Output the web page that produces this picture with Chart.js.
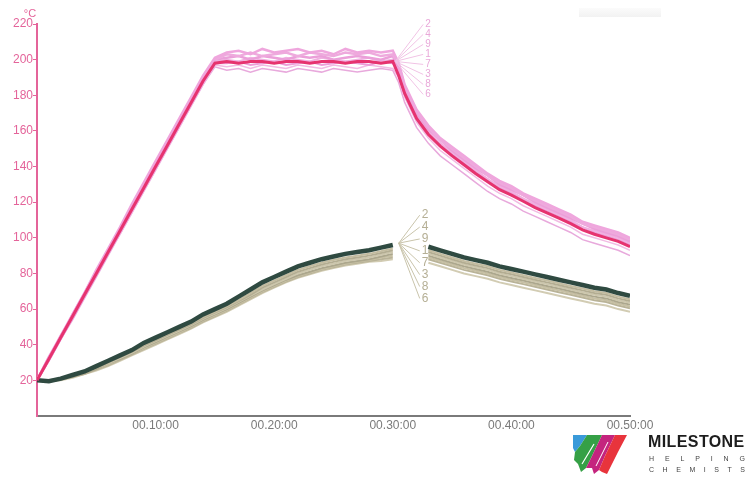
<!DOCTYPE html>
<html>
<head>
<meta charset="utf-8">
<script src="https://cdn.jsdelivr.net/npm/chart.js@4.4.1/dist/chart.umd.min.js"></script>
<style>
    body { margin: 0; background: #ffffff; }
    #wrap { position: relative; width: 752px; height: 478px; overflow: hidden; }
    #chart { position: absolute; left: 0; top: 0; }
    #bar { position: absolute; left: 579px; top: 8px; width: 82px; height: 9px; background: linear-gradient(#fbfbfb, #f2f2f2); }
    #logo-mark { position: absolute; left: 572px; top: 434px; }
    .brand { position: absolute; left: 648px; top: 433px; font: bold 16px "Liberation Sans", Arial, sans-serif; color: #1d1d1d; letter-spacing: 0.4px; }
    .tag { position: absolute; left: 649px; width: 96px; display: flex; justify-content: space-between; font: 7px "Liberation Sans", Arial, sans-serif; color: #444; }
</style>
</head>
<body>
<div id="wrap">
    <canvas id="chart" width="752" height="478"></canvas>
    <div id="bar"></div>
    <svg id="logo-mark" width="58" height="44" viewBox="0 0 58 44">
        <polygon points="1,1 15,1 8,12 3,18 1,14" fill="#3a9ad9"/>
        <polygon points="15,1 30,1 20,22 14,34 9,38 6,30 2,26 3,18 8,12" fill="#35a046"/>
        <polygon points="30,1 43,1 33,22 27,36 22,40 20,34 14,34 20,22" fill="#c4247e"/>
        <polygon points="43,1 55,1 46,18 40,30 35,40 30,38 27,36 33,22" fill="#e8343c"/>
        <polyline points="10,30 16,20 22,10" stroke="#ffffff" stroke-width="1.2" fill="none"/>
        <polyline points="24,32 30,20 36,8" stroke="#ffffff" stroke-width="1" fill="none"/>
    </svg>
    <div class="brand">MILESTONE</div>
    <div class="tag" style="top:455px"><span>H</span><span>E</span><span>L</span><span>P</span><span>I</span><span>N</span><span>G</span></div>
    <div class="tag" style="top:466px"><span>C</span><span>H</span><span>E</span><span>M</span><span>I</span><span>S</span><span>T</span><span>S</span></div>
</div>
<script>
// time axis in minutes
const minutes = [0, 1, 2, 3, 4, 5, 6, 7, 8, 9, 10, 11, 12, 13, 14, 15, 16, 17, 18, 19, 20,
    21, 22, 23, 24, 25, 26, 27, 28, 29, 30, 30.5, 31, 32, 33, 34, 35, 36, 37, 38, 39, 40,
    41, 42, 43, 44, 45, 46, 47, 48, 49, 50];

const vesselNames = ['2', '4', '9', '1', '7', '3', '8', '6'];

// set temperature / internal probe (pink)
const pink1 = [20, 32, 44, 56, 68, 80, 92, 104, 116, 128, 140, 152, 164, 176, 188, 198,
    199, 198, 199, 199, 198, 199, 199, 198, 199, 199, 198, 199, 199, 198, 199,
    191, 181, 167, 158, 151.5, 146, 141, 136, 131.5, 127, 124, 120.5, 117, 114, 111, 108, 104.5, 102, 100, 98, 95];
const pink2 = [20, 33, 45, 57, 69, 82, 94, 106, 119, 131, 143, 155, 167, 179, 191, 201,
    204, 205, 203, 206, 204, 205, 206, 204, 205, 203, 206, 204, 205, 204, 205,
    198, 186, 172, 163, 156, 151, 146, 141, 136, 132, 129, 125, 122, 119, 116, 113, 109, 107, 105, 103, 100];
const pink4 = [20, 33, 44, 57, 69, 81, 93, 105, 118, 130, 142, 154, 166, 178, 190, 200,
    203, 202, 204, 202, 203, 204, 202, 204, 203, 202, 204, 203, 204, 202, 203,
    197, 185, 171, 162, 155, 150, 145, 140, 135, 131, 128, 124, 121, 118, 115, 112, 108, 106, 104, 102, 99];
const pink9 = [20, 32, 45, 56, 68, 81, 93, 104, 117, 129, 141, 153, 165, 177, 189, 200,
    201, 202, 200, 202, 201, 200, 202, 201, 202, 200, 201, 202, 201, 200, 202,
    196, 184, 170, 161, 155, 149, 144, 139, 135, 130, 127, 124, 120, 117, 114, 111, 108, 105, 103, 101, 98];
const pink7 = [20, 32, 44, 56, 68, 80, 92, 104, 116, 128, 140, 152, 164, 176, 188, 199,
    200, 199, 201, 200, 199, 201, 200, 199, 201, 200, 199, 200, 201, 199, 200,
    195, 183, 169, 160, 153, 148, 143, 138, 133, 129, 126, 122, 119, 116, 113, 110, 106, 104, 102, 100, 97];
const pink3 = [20, 31, 43, 55, 67, 79, 91, 103, 115, 127, 139, 151, 163, 175, 187, 198,
    198, 199, 197, 198, 199, 197, 198, 199, 197, 198, 199, 198, 197, 199, 198,
    194, 182, 168, 159, 153, 147, 142, 137, 133, 128, 125, 122, 118, 115, 112, 109, 106, 103, 101, 99, 96];
const pink8 = [20, 31, 43, 55, 67, 79, 91, 102, 114, 126, 138, 150, 162, 174, 186, 197,
    196, 197, 195, 197, 196, 195, 197, 196, 195, 197, 196, 195, 197, 196, 195,
    190, 179, 165, 156, 149, 144, 139, 134, 129, 125, 122, 118, 115, 112, 109, 106, 102, 100, 98, 96, 93];
const pink6 = [20, 31, 43, 54, 66, 78, 90, 102, 114, 126, 138, 150, 162, 174, 186, 196,
    194, 195, 193, 195, 194, 193, 195, 194, 193, 195, 194, 193, 194, 195, 194,
    187, 176, 162, 153, 146, 141, 136, 131, 126, 122, 119, 115, 112, 109, 106, 103, 99, 97, 95, 93, 90];

// external sensor (grey)
const grey1 = [20, 19.5, 21, 23, 25, 28, 31, 34, 37, 41, 44, 47, 50, 53, 57, 60, 63, 67, 71, 75, 78,
    81, 84, 86, 88, 89.5, 91, 92, 93, 94.5, 96, null, null, null,
    95, 93, 91, 89, 87.5, 86, 84, 82.5, 81, 79.5, 78, 76.5, 75, 73.5, 72, 71, 69, 67.5];
const grey2 = [20, 19.5, 21, 23, 25, 27.5, 30.5, 33.5, 36.5, 40, 43, 46, 49, 52, 55.5, 58.5, 61.5, 65, 69, 73, 76,
    79, 82, 84, 86, 87.5, 89, 90, 91, 92.5, 94, null, null, null,
    93, 91, 89, 87, 85.5, 84, 82, 80.5, 79, 77.5, 76, 74.5, 73, 71.5, 70, 69, 67, 65.5];
const grey4 = [20, 19.5, 21, 22.5, 24.5, 27, 30, 33, 36, 39.5, 42.5, 45.5, 48.5, 51.5, 55, 58, 61, 64.5, 68, 72, 75,
    78, 81, 83, 85, 86.5, 88, 89, 90, 91.5, 93, null, null, null,
    92, 90, 88, 86, 84.5, 83, 81, 79.5, 78, 76.5, 75, 73.5, 72, 70.5, 69, 68, 66, 64.5];
const grey9 = [20, 19.5, 20.5, 22.5, 24.5, 27, 29.5, 32.5, 35.5, 39, 42, 45, 48, 51, 54.5, 57.5, 60.5, 64, 67.5, 71, 74,
    77, 80, 82, 84, 85.5, 87, 88, 89, 90.5, 92, null, null, null,
    91, 89, 87, 85, 83.5, 82, 80, 78.5, 77, 75.5, 74, 72.5, 71, 69.5, 68, 67, 65, 63.5];
const grey7 = [20, 19.5, 20.5, 22, 24, 26.5, 29.5, 32, 35, 38.5, 41.5, 44.5, 47.5, 50.5, 54, 57, 60, 63.5, 67, 70.5, 73.5,
    76.5, 79, 81, 83, 84.5, 86, 87, 88, 89.5, 91, null, null, null,
    90, 88, 86, 84, 82.5, 81, 79, 77.5, 76, 74.5, 73, 71.5, 70, 68.5, 67, 66, 64, 62.5];
const grey3 = [20, 19.5, 20.5, 22, 24, 26.5, 29, 32, 35, 38, 41, 44, 47, 50, 53.5, 56.5, 59.5, 63, 66.5, 70, 73,
    76, 78.5, 80.5, 82.5, 84, 85.5, 86.5, 87.5, 89, 90, null, null, null,
    89, 87, 85, 83, 81.5, 80, 78, 76.5, 75, 73.5, 72, 70.5, 69, 67.5, 66, 65, 63, 61.5];
const grey8 = [20, 19.5, 20.5, 22, 23.5, 26, 28.5, 31.5, 34.5, 37.5, 40.5, 43.5, 46.5, 49.5, 53, 56, 59, 62.5, 66, 69.5, 72.5,
    75.5, 78, 80, 82, 83.5, 85, 86, 87, 88, 89, null, null, null,
    88, 86, 84, 82, 80.5, 79, 77, 75.5, 74, 72.5, 71, 69.5, 68, 66.5, 65, 64, 62, 60.5];
const grey6 = [20, 19.5, 20, 21.5, 23.5, 25.5, 28, 31, 34, 37, 40, 43, 46, 49, 52.5, 55.5, 58.5, 62, 65.5, 69, 72,
    75, 77.5, 79.5, 81.5, 83, 84.5, 85.5, 86.5, 87, 88, null, null, null,
    86, 84, 82, 80, 78.5, 77, 75, 73.5, 72, 70.5, 69, 67.5, 66, 64.5, 63, 62, 60, 58.5];

const yTicks = [20, 40, 60, 80, 100, 120, 140, 160, 180, 200, 220];
const xTicks = [10, 20, 30, 40, 50];

const PINK = '#e6336f';
const PINK_AXIS = '#e4649a';
const GREY_AXIS = '#7a7a7a';
const FONT = '"Liberation Sans", Arial, sans-serif';

function points(values) {
    return minutes.map((t, i) => ({ x: t, y: values[i] }));
}

function trace(label, values, color, width, order) {
    return {
        label: label,
        data: points(values),
        borderColor: color,
        borderWidth: width,
        pointRadius: 0,
        tension: 0,
        spanGaps: false,
        order: order
    };
}

const datasets = [
    trace('1', pink1, PINK, 3, 0),
    trace('2', pink2, '#efa6dd', 2.5, 2),
    trace('4', pink4, '#eeaadd', 2.5, 2),
    trace('9', pink9, '#eb9fd9', 2.5, 2),
    trace('7', pink7, '#f0b0e0', 2, 2),
    trace('3', pink3, '#ec9ed8', 2, 2),
    trace('8', pink8, '#f2bbe4', 1.5, 2),
    trace('6', pink6, '#e8a9dc', 1.5, 2),
    trace('1', grey1, '#2f4a41', 4.5, 1),
    trace('2', grey2, '#c3bca0', 2, 3),
    trace('4', grey4, '#b3ad92', 2, 3),
    trace('9', grey9, '#cdc7ad', 2, 3),
    trace('7', grey7, '#aca78d', 2, 3),
    trace('3', grey3, '#c7c0a4', 2, 3),
    trace('8', grey8, '#b9b398', 2, 3),
    trace('6', grey6, '#d2ccb3', 2, 3)
];

function drawFan(ctx, ox, oy, firstDy, step, dx, font, textColor, lineColor) {
    ctx.save();
    ctx.font = font;
    ctx.textAlign = 'left';
    ctx.textBaseline = 'middle';
    ctx.lineWidth = 1;
    ctx.strokeStyle = lineColor;
    vesselNames.forEach((name, i) => {
        const ly = oy + firstDy + i * step;
        ctx.beginPath();
        ctx.moveTo(ox, oy);
        ctx.lineTo(ox + dx - 2, ly);
        ctx.stroke();
        ctx.fillStyle = textColor;
        ctx.fillText(name, ox + dx, ly);
    });
    ctx.restore();
}

const fanLabels = {
    id: 'fanLabels',
    afterDatasetsDraw(chart) {
        const { ctx, scales: { x, y } } = chart;
        drawFan(ctx, x.getPixelForValue(30.2), y.getPixelForValue(199), -37, 10, 30,
            '10px ' + FONT, '#e9a8d9', '#f1c3e5');
        drawFan(ctx, x.getPixelForValue(30.5), y.getPixelForValue(97), -28, 11.9, 23,
            '12px ' + FONT, '#b5af95', '#c9c4ab');
    }
};

const unitLabel = {
    id: 'unitLabel',
    afterDraw(chart) {
        const { ctx, chartArea } = chart;
        ctx.save();
        ctx.font = '11px ' + FONT;
        ctx.fillStyle = PINK_AXIS;
        ctx.textAlign = 'center';
        ctx.textBaseline = 'middle';
        ctx.fillText('°C', chartArea.left - 7, chartArea.top - 10);
        ctx.restore();
    }
};

new Chart(document.getElementById('chart'), {
    type: 'line',
    data: { datasets: datasets },
    options: {
        responsive: false,
        animation: false,
        layout: { padding: { left: 0, top: 24, right: 122, bottom: 0 } },
        plugins: {
            legend: { display: false },
            tooltip: { enabled: false }
        },
        scales: {
            x: {
                type: 'linear',
                min: 0,
                max: 50,
                afterFit: (scale) => { scale.height = 62; },
                afterBuildTicks: (scale) => { scale.ticks = xTicks.map(v => ({ value: v })); },
                ticks: {
                    color: GREY_AXIS,
                    font: { family: FONT, size: 12 },
                    padding: 2,
                    maxRotation: 0,
                    callback: (v) => '00.' + v + ':00'
                },
                grid: { display: true, drawOnChartArea: false, drawTicks: false },
                border: { display: true, color: GREY_AXIS, width: 2 }
            },
            y: {
                type: 'linear',
                min: 0,
                max: 220,
                afterFit: (scale) => { scale.width = 37; },
                afterBuildTicks: (scale) => { scale.ticks = yTicks.map(v => ({ value: v })); },
                ticks: {
                    color: PINK_AXIS,
                    font: { family: FONT, size: 12 },
                    padding: 0
                },
                grid: {
                    display: true,
                    drawOnChartArea: false,
                    drawTicks: true,
                    tickLength: 4,
                    color: PINK_AXIS
                },
                border: { display: true, color: PINK_AXIS, width: 2 }
            }
        }
    },
    plugins: [fanLabels, unitLabel]
});
</script>
</body>
</html>
